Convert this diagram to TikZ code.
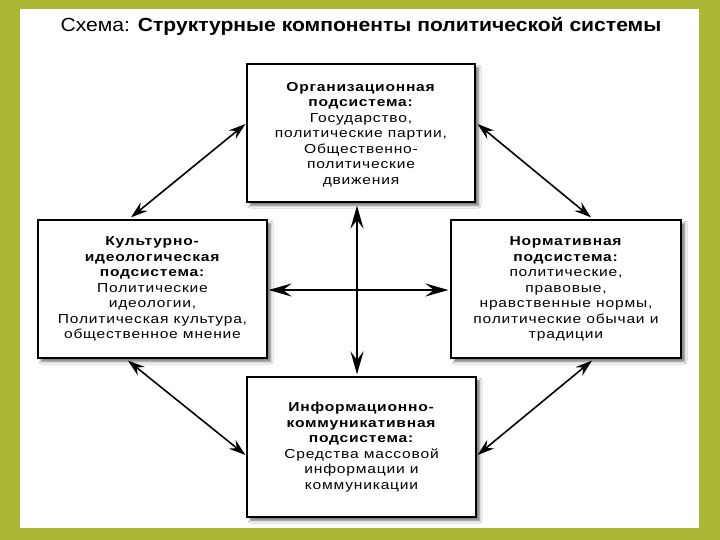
\documentclass[tikz,border=0pt]{standalone}
\usepackage{fontspec}
\setmainfont{Liberation Sans}
\newfontfamily\boxfont{Liberation Sans}[FakeStretch=1.2, LetterSpace=6]
\newfontfamily\titlefont{Liberation Sans}[FakeStretch=1.11]
\usetikzlibrary{arrows.meta,shadows.blur}
\definecolor{bordergreen}{RGB}{170,184,54}
\tikzset{
  box/.style={draw=black, line width=1.2pt, fill=white, align=center,
    font=\boxfont\fontsize{13}{15.5}\selectfont,
    blur shadow={shadow xshift=3.5pt, shadow yshift=-3.5pt, shadow blur steps=6, shadow blur radius=2.5pt, shadow opacity=55},
    inner sep=0pt},
  crossarrow/.style={line width=2.2pt, {Stealth[length=23pt,width=13pt,inset=8.5pt]}-{Stealth[length=23pt,width=13pt,inset=8.5pt]}},
  diagarrow/.style={line width=1.6pt, {Stealth[length=17pt,width=11pt,inset=6pt]}-{Stealth[length=17pt,width=11pt,inset=6pt]}},
}
\begin{document}
\begin{tikzpicture}[x=1pt,y=-1pt]
\useasboundingbox (0,0) rectangle (720,540);
\fill[bordergreen] (0,0) rectangle (720,540);
\fill[white] (20,9) rectangle (699,528);
\node[font=\titlefont\fontsize{19}{21}\selectfont] (title) at (361,26)
  {Схема: \textbf{Структурные компоненты политической системы}};

\node[box, minimum width=228pt, minimum height=138pt, text depth=0pt] (org) at (361,133)
  {\textbf{Организационная}\\\textbf{подсистема:}\\Государство,\\политические партии,\\Общественно-\\политические\\движения};
\node[box, minimum width=229pt, minimum height=138pt] (cult) at (152.5,289)
  {\textbf{Культурно-}\\\textbf{идеологическая}\\\textbf{подсистема:}\\Политические\\идеологии,\\Политическая культура,\\общественное мнение};
\node[box, minimum width=230pt, minimum height=138pt] (norm) at (566,289)
  {\textbf{Нормативная}\\\textbf{подсистема:}\\политические,\\правовые,\\нравственные нормы,\\политические обычаи и\\традиции};
\node[box, minimum width=229pt, minimum height=140pt] (info) at (361.5,447)
  {\textbf{Информационно-}\\\textbf{коммуникативная}\\\textbf{подсистема:}\\Средства массовой\\информации и\\коммуникации};

\draw[crossarrow] ([xshift=-4pt,yshift=-3pt]org.south) -- ([xshift=-4.5pt,yshift=2pt]info.north);
\draw[crossarrow] ([xshift=1pt,yshift=-1pt]cult.east) -- ([xshift=-2pt,yshift=-1pt]norm.west);

\draw[diagarrow] ([xshift=-21.5pt,yshift=2pt]cult.north) -- ([xshift=-1pt,yshift=9pt]org.west);
\draw[diagarrow] ([xshift=2pt,yshift=9pt]org.east) -- ([xshift=25pt,yshift=2pt]norm.north);
\draw[diagarrow] ([xshift=-24.5pt,yshift=-2pt]cult.south) -- ([xshift=-1pt,yshift=-8pt]info.west);
\draw[diagarrow] ([xshift=1pt,yshift=-8pt]info.east) -- ([xshift=26pt,yshift=-2pt]norm.south);
\end{tikzpicture}
\end{document}
